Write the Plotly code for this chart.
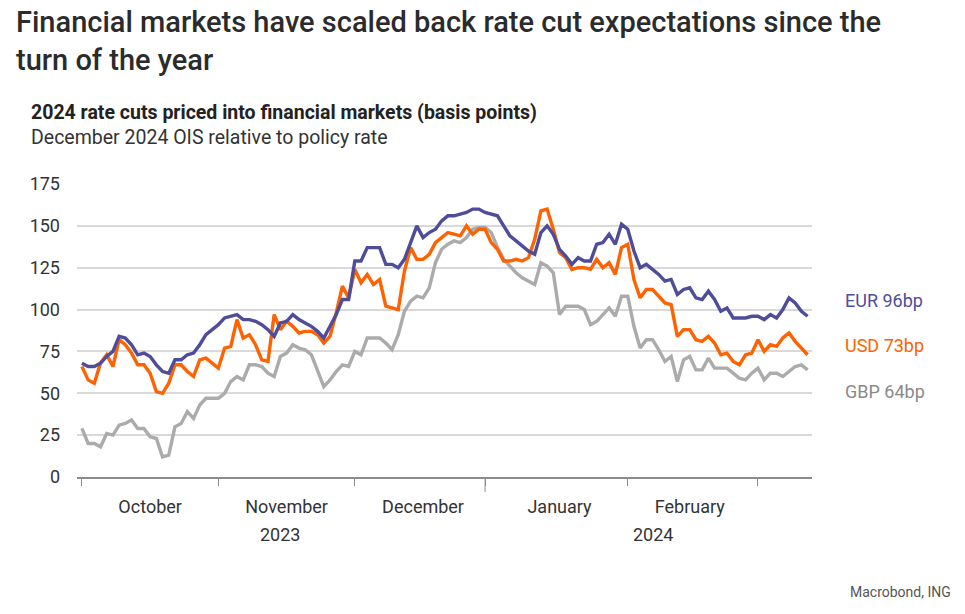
import pandas as pd
import plotly.graph_objects as go

# ---------------- data ----------------
dates = pd.bdate_range("2023-10-02", "2024-03-13")

eur = [68, 66, 66, 68, 72, 75, 84, 83, 79, 73, 74, 72, 67, 63, 62, 70, 70, 73, 74, 79,
       85, 88, 91, 95, 96, 97, 94, 94, 93, 91, 88, 84, 92, 93, 97, 94, 92, 90, 87, 83,
       90, 97, 106, 106, 129, 129, 137, 137, 137, 127, 127, 125, 130, 140, 150, 143, 146, 148, 153, 156,
       156, 157, 158, 160, 160, 158, 157, 156, 150, 144, 141, 138, 135, 133, 146, 150, 145, 136, 132, 127,
       131, 129, 129, 139, 140, 145, 139, 151, 148, 135, 125, 127, 124, 121, 117, 118, 109, 112, 113, 107,
       106, 111, 106, 99, 101, 95, 95, 95, 96, 96, 94, 97, 95, 100, 107, 104, 99, 96]

usd = [66, 58, 56, 68, 73, 66, 82, 79, 74, 67, 67, 62, 51, 50, 56, 67, 67, 63, 60, 70,
       71, 68, 65, 77, 78, 94, 83, 85, 79, 70, 69, 97, 88, 93, 90, 86, 87, 87, 85, 80,
       84, 98, 114, 107, 124, 116, 121, 115, 118, 102, 101, 100, 123, 137, 130, 130, 133, 140, 143, 146,
       145, 144, 150, 145, 148, 148, 140, 136, 129, 129, 130, 129, 131, 142, 159, 160, 148, 134, 131, 124,
       125, 125, 124, 130, 125, 128, 121, 137, 139, 118, 107, 112, 112, 108, 104, 103, 84, 88, 88, 82,
       81, 84, 80, 73, 74, 69, 67, 73, 74, 82, 75, 79, 78, 83, 86, 81, 77, 73]

gbp = [29, 20, 20, 18, 26, 25, 31, 32, 34, 29, 29, 24, 23, 12, 13, 30, 32, 39, 35, 43,
       47, 47, 47, 50, 57, 60, 58, 67, 67, 66, 62, 60, 72, 74, 79, 77, 76, 73, 64, 54,
       58, 63, 67, 66, 75, 73, 83, 83, 83, 80, 76, 85, 99, 105, 108, 107, 113, 128, 136, 139,
       141, 140, 143, 148, 149, 149, 146, 137, 130, 126, 122, 119, 117, 115, 128, 126, 122, 97, 102, 102,
       102, 100, 91, 93, 97, 101, 96, 108, 108, 90, 77, 82, 82, 76, 69, 72, 57, 70, 72, 64,
       64, 71, 65, 65, 65, 62, 59, 58, 62, 65, 58, 62, 62, 60, 63, 66, 67, 64]

series_names = ["EUR", "USD", "GBP"]
series_labels = ["EUR 96bp", "USD 73bp", "GBP 64bp"]
month_boundaries = ["2023-10-02", "2023-11-01", "2023-12-01", "2024-01-01", "2024-02-01", "2024-03-01"]
month_label_pos = ["2023-10-17", "2023-11-16", "2023-12-18", "2024-01-17", "2024-02-15"]
month_labels = ["October", "November", "December", "January", "February"]
year_label_pos = ["2023-11-15", "2024-02-07"]
year_labels = ["2023", "2024"]
y_ticks = [0, 25, 50, 75, 100, 125, 150, 175]

assert len(dates) == len(eur) == len(usd) == len(gbp)

# ---------------- style ----------------
W, H = 965, 614
L, R, T, B = 77, 812, 184, 477
FONT = "Roboto"
TXT = "#333333"
colors = {"EUR": "#4f4d9a", "USD": "#ff6200", "GBP": "#ababab"}
label_colors = {"EUR": "#4f4d9a", "USD": "#ff6200", "GBP": "#8a8a8a"}

def px_x(p):
    return (p - L) / (R - L)

def px_y(p):
    return (B - p) / (B - T)

fig = go.Figure()

# draw GBP first, then USD, then EUR on top
for name, vals in [("GBP", gbp), ("USD", usd), ("EUR", eur)]:
    fig.add_trace(go.Scatter(x=dates, y=vals, mode="lines", name=name,
                             line=dict(color=colors[name], width=3.4),
                             showlegend=False, hoverinfo="x+y+name"))

fig.update_layout(
    width=W, height=H,
    margin=dict(l=L, r=W - R, t=T, b=H - B),
    paper_bgcolor="white", plot_bgcolor="white",
    font=dict(family=FONT, color=TXT),
    showlegend=False,
    xaxis=dict(
        type="date",
        range=["2023-09-29 05:00", "2024-03-13 17:00"],
        rangebreaks=[dict(bounds=["sat", "mon"])],
        tickmode="array", tickvals=month_label_pos, ticktext=month_labels,
        ticks="", ticklabelstandoff=13,
        tickfont=dict(size=18, color=TXT),
        showgrid=False, showline=True, linecolor="#8c8c8c", linewidth=1.5,
        minor=dict(tickmode="array", tickvals=month_boundaries, ticks="outside",
                   ticklen=7, tickwidth=1, tickcolor="#8c8c8c", showgrid=False),
        fixedrange=True,
    ),
    yaxis=dict(
        range=[0, 175], tickmode="array", tickvals=y_ticks,
        ticks="", ticklabelstandoff=16,
        tickfont=dict(size=18, color=TXT),
        showgrid=True, gridcolor="#d9d9d9", gridwidth=1.5,
        zeroline=False, showline=False, fixedrange=True,
    ),
)

# longer tick at the year boundary
fig.add_shape(type="line", xref="x", yref="paper", x0="2024-01-01", x1="2024-01-01",
              y0=0, y1=px_y(492), line=dict(color="#8c8c8c", width=1))

# year labels
for pos, txt in zip(year_label_pos, year_labels):
    fig.add_annotation(x=pos, xref="x", y=px_y(534), yref="paper", text=txt,
                       showarrow=False, font=dict(size=18, color=TXT),
                       xanchor="center", yanchor="middle")

# end-of-line labels
label_y = {"EUR": 300, "USD": 345, "GBP": 391}
for name, txt in zip(series_names, series_labels):
    fig.add_annotation(x=px_x(843), xref="paper", y=px_y(label_y[name]), yref="paper",
                       text=txt, showarrow=False, xanchor="left", yanchor="middle",
                       font=dict(size=18, color=label_colors[name]))

# titles
fig.add_annotation(x=px_x(14), xref="paper", y=px_y(3), yref="paper",
                   text="Financial markets have scaled back rate cut expectations since the<br>turn of the year",
                   showarrow=False, xanchor="left", yanchor="top", align="left",
                   font=dict(size=29, color="#2b2b2b", family=FONT, weight=500))
fig.add_annotation(x=px_x(29), xref="paper", y=px_y(113), yref="paper",
                   text="<b>2024 rate cuts priced into financial markets (basis points)</b>",
                   showarrow=False, xanchor="left", yanchor="middle",
                   font=dict(size=19.5, color="#222222", family=FONT))
fig.add_annotation(x=px_x(29), xref="paper", y=px_y(137), yref="paper",
                   text="December 2024 OIS relative to policy rate",
                   showarrow=False, xanchor="left", yanchor="middle",
                   font=dict(size=19.5, color="#333333", family=FONT))
fig.add_annotation(x=px_x(953), xref="paper", y=px_y(592), yref="paper",
                   text="Macrobond, ING", showarrow=False, xanchor="right", yanchor="middle",
                   font=dict(size=14, color="#555555", family=FONT))

fig.write_html("out.html", config={"displayModeBar": False})
